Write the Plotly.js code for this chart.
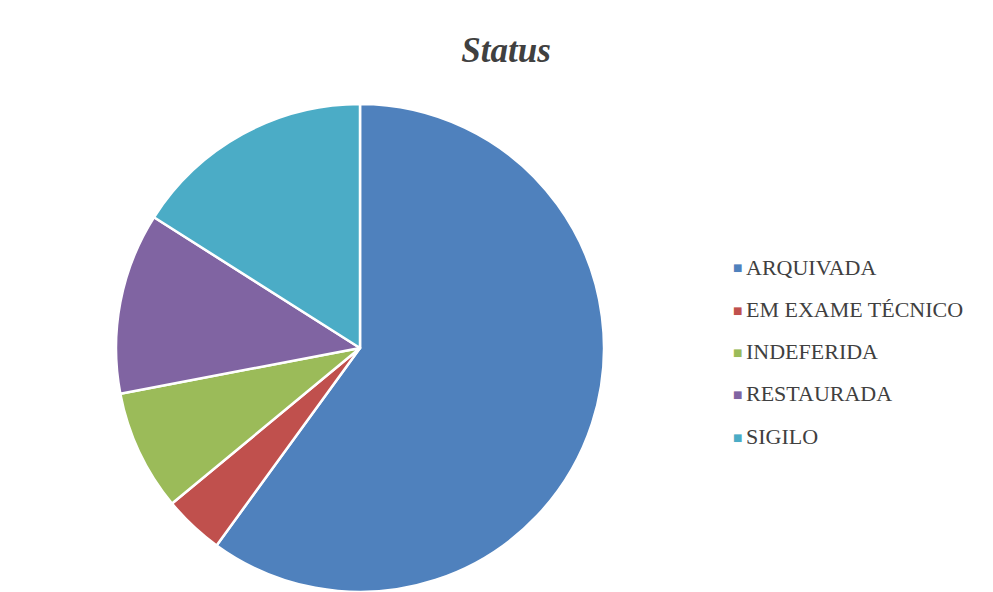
<!DOCTYPE html>
<html>
<head>
<meta charset="utf-8">
<script src="https://cdn.plot.ly/plotly-3.0.1.min.js"></script>
<style>html,body{margin:0;padding:0;background:#fff;}#chart{width:993px;height:592px;}</style>
</head>
<body>
<div id="chart"></div>
<script>
const labels = ['ARQUIVADA', 'EM EXAME TÉCNICO', 'INDEFERIDA', 'RESTAURADA', 'SIGILO'];
const values = [60, 4, 8, 12, 16];
const colors = ['#4F81BD', '#C0504D', '#9BBB59', '#8064A2', '#4BACC6'];
const chartTitle = 'Status';

const W = 993, H = 592;
const R = 244, CX = 360;
const trace = {
  type: 'pie',
  labels: labels,
  values: values,
  sort: false,
  direction: 'clockwise',
  rotation: 0,
  textinfo: 'none',
  hoverinfo: 'label+value+percent',
  marker: { colors: colors, line: { color: '#ffffff', width: 2.5 } },
  domain: { x: [(CX - R) / W, (CX + R) / W], y: [0, 2 * R / H] }
};

const annotations = [];
const legendTop = 267, legendStep = 42.3;
labels.forEach((lab, i) => {
  const py = legendTop + i * legendStep;
  annotations.push({
    xref: 'paper', yref: 'paper', x: 737 / W, y: 1 - (py + 1) / H,
    xanchor: 'center', yanchor: 'middle', showarrow: false,
    text: '■', font: { family: 'DejaVu Sans', size: 10, color: colors[i] }
  });
  annotations.push({
    xref: 'paper', yref: 'paper', x: 744 / W, y: 1 - py / H,
    xanchor: 'left', yanchor: 'middle', showarrow: false,
    text: lab, font: { family: 'Liberation Serif', size: 22, color: '#404040' }
  });
});

const layout = {
  width: W, height: H,
  margin: { l: 0, r: 0, t: 0, b: 0 },
  paper_bgcolor: '#ffffff',
  showlegend: false,
  title: {
    text: '<b><i>' + chartTitle + '</i></b>',
    font: { family: 'Liberation Serif', size: 35, color: '#404040' },
    x: 506 / W, xanchor: 'center', y: 1 - 50 / H, yanchor: 'middle'
  },
  annotations: annotations
};

Plotly.newPlot('chart', [trace], layout, { displayModeBar: false, staticPlot: true });
</script>
</body>
</html>
